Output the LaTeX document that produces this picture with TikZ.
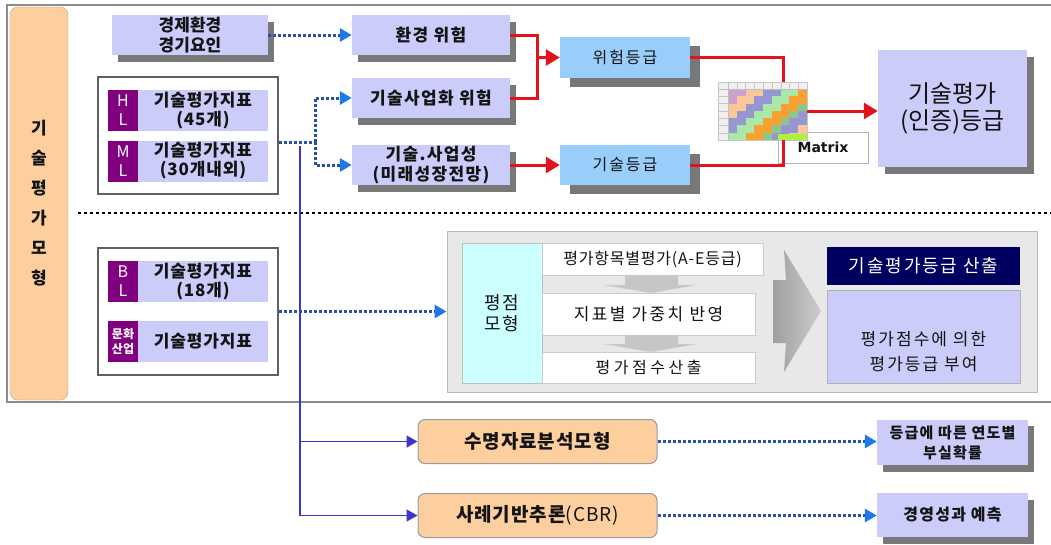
\documentclass[tikz,border=0pt]{standalone}
\usepackage{fontspec}
\setmainfont{Noto Sans CJK KR}
\newfontfamily\matrixfont{DejaVu Sans}
\usetikzlibrary{arrows.meta,shadows}

\newcommand\fsz[2]{\fontsize{#1}{#2}\selectfont}
\newcommand\lsp[1]{\addfontfeature{LetterSpace=#1}}

\definecolor{lav}{RGB}{204,204,250}
\definecolor{skyb}{RGB}{153,206,250}
\definecolor{shadowgray}{RGB}{120,120,120}
\definecolor{purp}{RGB}{128,0,128}
\definecolor{orng}{RGB}{253,206,158}
\definecolor{orngdraw}{RGB}{195,160,120}
\definecolor{panelgray}{RGB}{232,232,232}
\definecolor{cyanbox}{RGB}{204,255,255}
\definecolor{navybox}{RGB}{0,0,96}
\definecolor{dotblue}{RGB}{40,80,170}
\definecolor{tipblue}{RGB}{30,120,230}
\definecolor{linered}{RGB}{225,20,30}
\definecolor{lineviolet}{RGB}{60,55,200}
\definecolor{framegray}{RGB}{140,140,140}
\definecolor{textdark}{RGB}{20,20,20}
% matrix thumbnail colours
\definecolor{mA}{RGB}{205,160,205}
\definecolor{mB}{RGB}{248,200,152}
\definecolor{mC}{RGB}{150,150,210}
\definecolor{mD}{RGB}{170,232,170}
\definecolor{mE}{RGB}{140,200,140}
\definecolor{mF}{RGB}{248,160,48}
\definecolor{mG}{RGB}{160,240,192}
\definecolor{mH}{RGB}{176,240,64}

\begin{document}
\begin{tikzpicture}[x=1pt,y=-1pt,
  box/.style={rectangle, inner sep=0pt, align=center, text=textdark},
  lavbox/.style={box, fill=lav, drop shadow={shadow xshift=6pt,shadow yshift=-7pt,fill=shadowgray,opacity=1}},
  skybox/.style={box, fill=skyb, drop shadow={shadow xshift=10pt,shadow yshift=-9pt,fill=shadowgray,opacity=1}},
  tagbox/.style={box, fill=purp, text=white, minimum width=30pt, minimum height=41pt},
  taglabel/.style={box, fill=lav, minimum width=130pt, minimum height=41pt},
  groupbox/.style={box, draw=gray!75!black, line width=1.2pt, fill=white, minimum width=180pt},
  whitebox/.style={box, fill=white, draw=gray!40},
  orangebox/.style={box, fill=orng, draw=gray!80, line width=1pt, rounded corners=7pt, minimum width=239pt, minimum height=44pt, font=\bfseries\fsz{19}{22}\lsp{5}},
  dotline/.style={dotblue, line width=3pt, dash pattern=on 3pt off 2pt},
  dotarrow/.style={dotline, -{Triangle[length=12pt,width=13pt,color=tipblue]}},
  redline/.style={linered, line width=3pt},
  redarrow/.style={redline, -{Triangle[length=14pt,width=16pt]}},
  violetline/.style={lineviolet, line width=1.8pt},
  violetarrow/.style={violetline, -{Triangle[length=11pt,width=12pt]}}
]
\useasboundingbox[fill=white] (0,0) rectangle (1051,544);

% outer frame of the evaluation model area
\draw[framegray, line width=2.5pt] (1053,5) -- (7,5) -- (7,402) -- (1053,402);

% side title
\node[box, fill=orng, draw=orngdraw, rounded corners=8pt, minimum width=58pt, minimum height=393pt,
      font=\bfseries\fsz{17}{30}] (side) at (39,203.5) {기\\술\\평\\가\\모\\형};

% separator between the two model groups
\draw[black, line width=2.5pt, dash pattern=on 3pt off 3pt] (78,213) -- (1051,213);

% ---------- upper group ----------
\node[lavbox, minimum width=156pt, minimum height=40pt, font=\bfseries\fsz{17}{20}] (econ) at (190,35) {경제환경\\경기요인};

\node[groupbox, minimum height=117pt] (grpA) at (188,135.5) {};
\node[tagbox, font=\fsz{16}{19}] (hltag) at (123,110.5) {H\\L};
\node[taglabel, font=\bfseries\fsz{17}{19}\lsp{5}] (hllab) at (203,110.5) {기술평가지표\\(45개)};
\node[tagbox, font=\fsz{16}{19}] (mltag) at (123,161) {M\\L};
\node[taglabel, font=\bfseries\fsz{17}{19}\lsp{5}] (mllab) at (203,161) {기술평가지표\\(30개내외)};

\node[lavbox, minimum width=158pt, minimum height=40pt, font=\bfseries\fsz{17}{20}\lsp{8}] (envrisk) at (431,35) {환경 위험};
\node[lavbox, minimum width=158pt, minimum height=40pt, font=\bfseries\fsz{17}{20}\lsp{8}] (bizrisk) at (431,98) {기술사업화 위험};
\node[lavbox, minimum width=158pt, minimum height=40pt, font=\bfseries\fsz{17}{20}\lsp{8}] (techbiz) at (431,165) {기술.사업성\\(미래성장전망)};

\node[skybox, minimum width=130pt, minimum height=41pt, font=\fsz{16}{20}\lsp{12}] (riskgrade) at (625,57.5) {위험등급};
\node[skybox, minimum width=130pt, minimum height=40pt, font=\fsz{16}{20}\lsp{12}] (techgrade) at (625,165) {기술등급};

\node[box, fill=lav, drop shadow={shadow xshift=7pt,shadow yshift=-7pt,fill=shadowgray,opacity=1},
      minimum width=149pt, minimum height=117pt, font=\fsz{24}{27}] (final) at (952.5,108.5) {기술평가\\(인증)등급};

% matrix label, red joins, then the matrix thumbnail on top
\node[box, fill=white, draw=gray!60, minimum width=90pt, minimum height=31pt,
      font=\matrixfont\bfseries\fsz{14}{16}] (matlabel) at (823,147.5) {Matrix};

\node[box, fill=gray!12, draw=gray!45, line width=0.4pt, minimum width=89pt, minimum height=58pt] (matimg) at (762.5,111) {};

\draw[redline] (riskgrade.east) -| ([xshift=20.5pt]matimg.north);
\draw[redline] (techgrade.east) -| ([xshift=20.5pt]matimg.south);

\foreach \r in {0,...,6}{
  \foreach \c in {0,...,8}{
    \pgfmathtruncatemacro\s{\r+\c}
    \pgfmathparse{{"mA","mA","mB","mB","mC","mC","mD","mD","mF","mF","mE","mC","mC","mB","mB"}[\s]}
    \edef\cc{\pgfmathresult}
    \fill[fill=\cc] ({728+\c*8.78},{89+\r*7.29}) rectangle ++(8.8,7.3);
  }
}
\fill[mH] (778,134) rectangle (807,140);
\foreach \c in {0,...,9}{
  \draw[gray!45, line width=0.3pt] ({728+\c*8.78},82) -- ({728+\c*8.78},89);
}
\foreach \r in {0,...,7}{
  \draw[gray!45, line width=0.3pt] (718,{89+\r*7.29}) -- (728,{89+\r*7.29});
}
\draw[gray!50, line width=0.4pt] (718,89) -- (807,89) (728,82) -- (728,140);

% red connectors
\coordinate (rj) at (537,57.5);
\draw[redline] (envrisk.east) -| (rj) |- (bizrisk.east);
\draw[redarrow] (rj) -- (riskgrade.west);
\draw[redarrow] (techbiz.east) -- (techgrade.west);
\draw[redarrow] (matimg.east) -- (matimg.east -| final.west);

% blue dotted connectors
\draw[dotarrow] (econ.east) -- (envrisk.west);
\coordinate (hj) at (315,142);
\draw[dotline] ([yshift=-6.5pt]grpA.east) -- (hj);
\draw[dotarrow] (hj) |- (bizrisk.west);
\draw[dotarrow] (hj) |- (techbiz.west);

% ---------- lower group ----------
\node[groupbox, minimum height=127pt] (grpB) at (188,311.5) {};
\node[tagbox, font=\fsz{16}{19}] (bltag) at (123,281.5) {B\\L};
\node[taglabel, font=\bfseries\fsz{17}{19}\lsp{5}] (bllab) at (203,281.5) {기술평가지표\\(18개)};
\node[tagbox, font=\bfseries\fsz{12}{15}] (cultag) at (123,341.5) {문화\\산업};
\node[taglabel, font=\bfseries\fsz{17}{19}\lsp{5}] (cullab) at (203,341.5) {기술평가지표};

\node[box, fill=panelgray, draw=gray!55, line width=1pt, minimum width=590pt, minimum height=161pt] (panel) at (742,312) {};
\draw[dotarrow] (grpB.east) -- (grpB.east -| panel.west);

\node[box, fill=cyanbox, draw=gray!50, minimum width=80pt, minimum height=140pt, font=\fsz{18}{21}\lsp{6}] (score) at (502,313) {평점\\모형};
\node[whitebox, minimum width=221pt, minimum height=32pt, font=\fsz{16}{18}\lsp{5}] (step1) at (652.5,259) {평가항목별평가(A-E등급)};
\node[whitebox, minimum width=213pt, minimum height=42pt, font=\fsz{17}{18}\lsp{14}] (step2) at (648.5,314) {지표별 가중치 반영};
\node[whitebox, minimum width=213pt, minimum height=31pt, font=\fsz{16}{18}\lsp{22}] (step3) at (648.5,367.5) {평가점수산출};

% flow arrows inside the scoring panel
\fill[gray!45, draw=gray!30] (625,275) -- (678,275) -- (678,285) -- (697,285) -- (651,293) -- (603,285) -- (625,285) -- cycle;
\fill[gray!45, draw=gray!30] (625,335) -- (678,335) -- (678,344) -- (697,344) -- (651,352) -- (603,344) -- (625,344) -- cycle;
\shade[left color=gray!75, right color=gray!40] (773,280) -- (786,280) -- (784,250) -- (821,311) -- (784,372) -- (786,343) -- (773,343) -- cycle;

\node[box, fill=navybox, text=white, minimum width=193pt, minimum height=38pt, font=\fsz{18}{20}\lsp{10}] (calc) at (923.5,266) {기술평가등급 산출};
\node[box, fill=lav, draw=gray!60, minimum width=193pt, minimum height=93pt] (assign) at (923.5,336.5) {};
\node[box, font=\fsz{17}{25}\lsp{12}] (assigntext) at (923.5,352) {평가점수에 의한\\평가등급 부여};

% ---------- statistical models below the frame ----------
\node[orangebox] (surv) at (537.5,441.5) {수명자료분석모형};
\node[orangebox] (cbr) at (537.5,515.5) {사례기반추론{\mdseries(CBR)}};

\node[lavbox, drop shadow={shadow xshift=6pt,shadow yshift=-6pt,fill=shadowgray,opacity=1},
      minimum width=151pt, minimum height=45pt, font=\bfseries\fsz{15}{20}\lsp{8}] (loss) at (952.5,442.5) {등급에 따른 연도별\\부실확률};
\node[lavbox, minimum width=151pt, minimum height=44pt, font=\bfseries\fsz{16}{20}\lsp{8}] (perf) at (952.5,515) {경영성과 예측};

\draw[dotarrow] (surv.east) -- (surv.east -| loss.west);
\draw[dotarrow] (cbr.east) -- (cbr.east -| perf.west);

\coordinate (vtop) at (300,146);
\draw[violetarrow] (vtop) |- (surv.west);
\draw[violetarrow] (vtop) |- (cbr.west);
\end{tikzpicture}
\end{document}
